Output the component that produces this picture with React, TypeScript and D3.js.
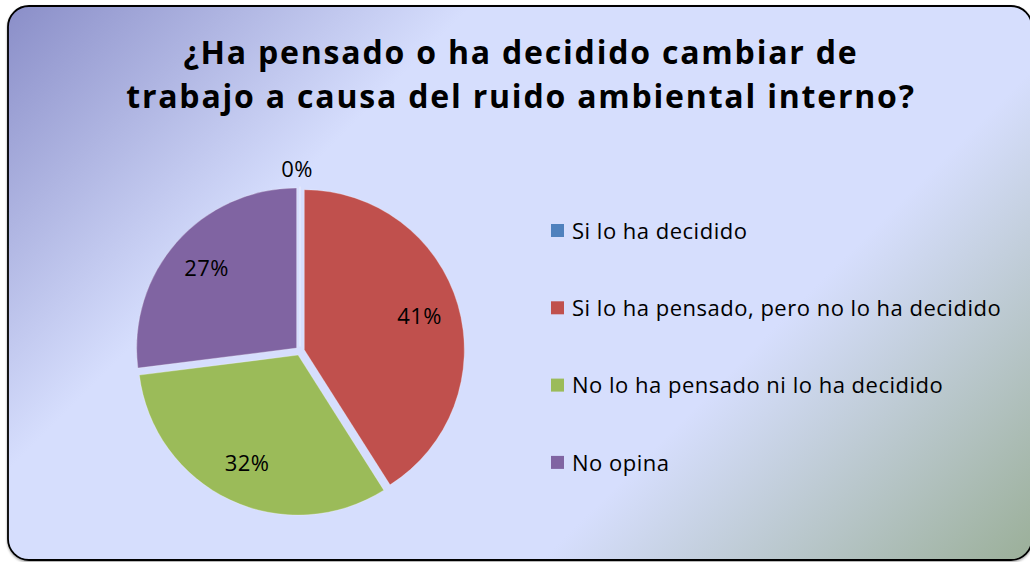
import React, { useRef, useEffect } from 'react';
import * as d3 from 'd3';

const categories = [
  'Si lo ha decidido',
  'Si lo ha pensado, pero no lo ha decidido',
  'No lo ha pensado ni lo ha decidido',
  'No opina',
];
const values = [0, 41, 32, 27];
const colors = ['#4f81bd', '#c0504d', '#9bbb59', '#8064a2'];
const titleLines = ['¿Ha pensado o ha decidido cambiar de', 'trabajo a causa del ruido ambiental interno?'];

const W = 1030;
const H = 562;

const App: React.FC = () => {
  const svgRef = useRef<SVGSVGElement>(null);

  useEffect(() => {
    if (!svgRef.current) return;
    const svg = d3.select(svgRef.current);
    svg.selectAll('*').remove();

    const font = '"Open Sans", Calibri, sans-serif';

    // background gradient
    const defs = svg.append('defs');
    const grad = defs.append('linearGradient')
      .attr('id', 'bg')
      .attr('gradientUnits', 'userSpaceOnUse')
      .attr('x1', 8).attr('y1', 6)
      .attr('x2', 808).attr('y2', 806);
    grad.append('stop').attr('offset', 0).attr('stop-color', '#8a8ec8');
    grad.append('stop').attr('offset', 0.29).attr('stop-color', '#d6defd');
    grad.append('stop').attr('offset', 0.68).attr('stop-color', '#d6defd');
    grad.append('stop').attr('offset', 1).attr('stop-color', '#98ad94');

    const shadow = defs.append('filter').attr('id', 'shadow')
      .attr('x', '-5%').attr('y', '-5%').attr('width', '110%').attr('height', '110%');
    shadow.append('feDropShadow')
      .attr('dx', 0).attr('dy', 1.5).attr('stdDeviation', 1.2)
      .attr('flood-color', '#000').attr('flood-opacity', 0.35);

    svg.append('rect')
      .attr('x', 8).attr('y', 6)
      .attr('width', 1024).attr('height', 554)
      .attr('rx', 21).attr('ry', 21)
      .attr('fill', 'url(#bg)')
      .attr('stroke', '#000')
      .attr('stroke-width', 1.8)
      .attr('filter', 'url(#shadow)');

    // title: one text, two lines
    const title = svg.append('text')
      .attr('text-anchor', 'middle')
      .attr('font-family', font)
      .attr('font-weight', 'bold')
      .attr('font-size', 32)
      .attr('letter-spacing', 1.8)
      .attr('fill', '#000');
    title.selectAll('tspan')
      .data(titleLines)
      .join('tspan')
      .attr('x', 521)
      .attr('y', (d, i) => 64 + i * 44)
      .text(d => d);

    // pie
    const cx = 300;
    const cy = 351;
    const r = 160;
    const explode = 4.5;

    const pie = d3.pie<number>().sort(null).value(d => d)(values);
    const arc = d3.arc<d3.PieArcDatum<number>>().innerRadius(0).outerRadius(r);

    const g = svg.append('g').attr('transform', `translate(${cx},${cy})`);
    const mid = (d: d3.PieArcDatum<number>) => (d.startAngle + d.endAngle) / 2;

    g.selectAll('path')
      .data(pie)
      .join('path')
      .attr('d', arc)
      .attr('fill', (d, i) => colors[i])
      .attr('stroke', 'rgba(255,255,255,0.35)')
      .attr('stroke-width', 0.8)
      .attr('transform', d => {
        const a = mid(d);
        return `translate(${Math.sin(a) * explode},${-Math.cos(a) * explode})`;
      });

    const labelR = (d: d3.PieArcDatum<number>) => (d.value === 0 ? r + 22 : r * 0.75 + explode);

    g.selectAll('text.lbl')
      .data(pie)
      .join('text')
      .attr('class', 'lbl')
      .attr('x', d => Math.sin(mid(d)) * labelR(d) - (d.value === 0 ? 3 : 0))
      .attr('y', d => -Math.cos(mid(d)) * labelR(d))
      .attr('dy', '0.35em')
      .attr('text-anchor', 'middle')
      .attr('font-family', font)
      .attr('font-size', 22)
      .attr('letter-spacing', 0.4)
      .attr('fill', '#000')
      .text(d => `${d.value}%`);

    // legend
    const legend = svg.append('g').attr('transform', 'translate(551,231)');
    const rows = legend.selectAll('g')
      .data(categories)
      .join('g')
      .attr('transform', (d, i) => `translate(0,${i * 77.3})`);
    rows.append('rect')
      .attr('x', 0).attr('y', -7)
      .attr('width', 13).attr('height', 13)
      .attr('fill', (d, i) => colors[i]);
    rows.append('text')
      .attr('x', 21)
      .attr('y', 0)
      .attr('dy', '0.35em')
      .attr('font-family', font)
      .attr('font-size', 22)
      .attr('letter-spacing', 0.5)
      .attr('fill', '#000')
      .text(d => d);
  }, []);

  return (
    <svg ref={svgRef} width={W} height={H} style={{ position: 'absolute', left: 0, top: 0 }} />
  );
};

export default App;
